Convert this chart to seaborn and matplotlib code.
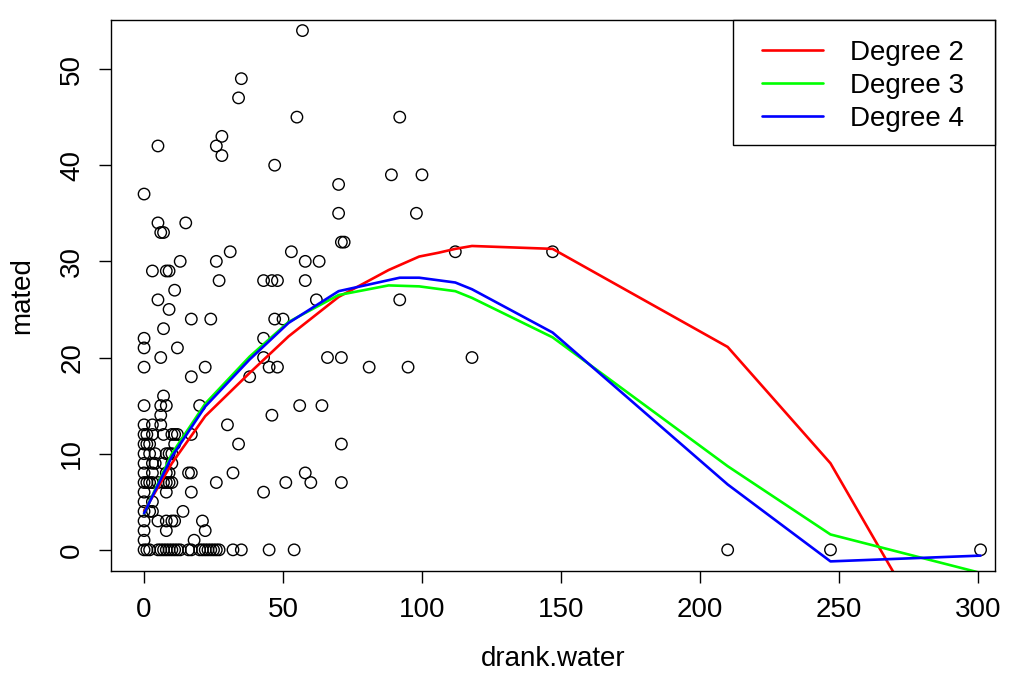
import matplotlib
matplotlib.use("Agg")
import matplotlib.pyplot as plt
import matplotlib.patches as mpatches
import seaborn as sns
import pandas as pd
import numpy as np

# ---- scatter data (drank.water, mated) ----
pts_x = [57, 35, 34, 28, 26, 28, 5, 0, 55, 92, 47, 89, 100, 70, 70, 98, 5, 15, 6, 7,
         71, 72, 31, 53, 112, 147, 13, 26, 58, 63, 3, 8, 9, 27, 43, 46, 48, 58, 11, 5,
         62, 92, 9, 17, 24, 47, 50, 7, 0, 43, 0, 12, 6, 43, 66, 71, 118, 0, 22, 45,
         48, 81, 95, 17, 38, 7, 0, 6, 8, 20, 56, 64, 6, 46, 0, 3, 6, 30,
         0, 1, 3, 7, 10, 11, 12, 17,
         34, 71, 0, 1, 2, 11,
         0, 2, 4, 8, 9, 10,
         0, 3, 4, 7, 10,
         0, 3, 8, 9, 16, 17, 32, 58,
         0, 1, 2, 3, 5, 7, 8, 9, 10, 26, 51, 60, 71,
         0, 8, 17, 43,
         0, 3,
         0, 2, 3, 14,
         0, 5, 8, 10, 11, 21,
         0, 8, 22,
         0, 18,
         0, 1, 2, 5, 6, 7, 8, 9, 10, 11, 12, 13, 16, 17, 20, 21, 22, 23, 24, 25, 26,
         27, 32, 35, 45, 54, 210, 247, 301]
pts_y = [54, 49, 47, 43, 42, 41, 42, 37, 45, 45, 40, 39, 39, 38, 35, 35, 34, 34, 33, 33,
         32, 32, 31, 31, 31, 31, 30, 30, 30, 30, 29, 29, 29, 28, 28, 28, 28, 28, 27, 26,
         26, 26, 25, 24, 24, 24, 24, 23, 22, 22, 21, 21, 20, 20, 20, 20, 20, 19, 19, 19,
         19, 19, 19, 18, 18, 16, 15, 15, 15, 15, 15, 15, 14, 14, 13, 13, 13, 13,
         12, 12, 12, 12, 12, 12, 12, 12,
         11, 11, 11, 11, 11, 11,
         10, 10, 10, 10, 10, 10,
         9, 9, 9, 9, 9,
         8, 8, 8, 8, 8, 8, 8, 8,
         7, 7, 7, 7, 7, 7, 7, 7, 7, 7, 7, 7, 7,
         6, 6, 6, 6,
         5, 5,
         4, 4, 4, 4,
         3, 3, 3, 3, 3, 3,
         2, 2, 2,
         1, 1,
         0, 0, 0, 0, 0, 0, 0, 0, 0, 0, 0, 0, 0, 0, 0, 0, 0, 0, 0, 0, 0,
         0, 0, 0, 0, 0, 0, 0, 0]

deg2_x = [0, 10, 22, 38, 52, 70, 88, 99, 106, 112, 118, 147, 210, 247, 301]
deg2_y = [4.0, 9.0, 13.9, 18.4, 22.2, 26.3, 29.1, 30.5, 30.9, 31.3, 31.6, 31.3, 21.1, 9.0, -18.0]

deg3_x = [0, 10, 22, 38, 52, 70, 88, 99, 112, 118, 147, 210, 247, 301]
deg3_y = [3.8, 10.0, 15.2, 20.1, 23.7, 26.5, 27.5, 27.4, 26.9, 26.2, 22.1, 8.7, 1.6, -2.4]

deg4_x = [0, 10, 22, 38, 52, 70, 92, 99, 112, 118, 147, 210, 247, 301]
deg4_y = [3.8, 9.7, 14.9, 19.8, 23.6, 26.9, 28.3, 28.3, 27.8, 27.1, 22.6, 6.8, -1.2, -0.6]

x_ticks = [0, 50, 100, 150, 200, 250, 300]
y_ticks = [0, 10, 20, 30, 40, 50]

sns.set_theme(style="white")
plt.rcParams['font.family'] = ['Liberation Sans', 'DejaVu Sans']
plt.rcParams['text.color'] = 'black'

FS = 20
W, H = 1011, 675
AX_L, AX_R, AX_T, AX_B = 111, 995, 20, 571
fig = plt.figure(figsize=(W / 100, H / 100), dpi=100)
ax = fig.add_axes([AX_L / W, 1 - AX_B / H, (AX_R - AX_L) / W, (AX_B - AX_T) / H])

df = pd.DataFrame({"drank.water": pts_x, "mated": pts_y})
sns.scatterplot(data=df, x="drank.water", y="mated", ax=ax, s=68,
                facecolor="none", edgecolor="black", linewidth=1.0, legend=False)

curves = [(deg2_x, deg2_y, "#FF0000", "Degree 2"),
          (deg3_x, deg3_y, "#00FF00", "Degree 3"),
          (deg4_x, deg4_y, "#0000FF", "Degree 4")]
for cx, cy, col, lab in curves:
    sns.lineplot(x=cx, y=cy, ax=ax, color=col, linewidth=1.9, sort=False,
                 estimator=None, label=lab)

ax.set_xlim(-11.9, 306.2)
ax.set_ylim(-2.2, 55.1)
ax.set_xticks(x_ticks)
ax.set_yticks(y_ticks)
ax.set_xticklabels([str(v) for v in x_ticks])
ax.set_yticklabels([str(v) for v in y_ticks], rotation=90, va="center")
ax.tick_params(axis="both", direction="out", length=8.6, width=1, color="black",
               labelsize=FS, labelcolor="black", bottom=True, left=True)
ax.tick_params(axis="x", pad=10)
ax.tick_params(axis="y", pad=10)
for sp in ax.spines.values():
    sp.set_visible(True)
    sp.set_color("black")
    sp.set_linewidth(1.0)
ax.set_xlabel("drank.water", fontsize=FS, color="black", labelpad=17)
ax.set_ylabel("mated", fontsize=FS, color="black", labelpad=17)
ax.grid(False)

# legend box (R style) drawn as a rectangle, entries placed inside
aw, ah = AX_R - AX_L, AX_B - AX_T
box_x0 = (733 - AX_L) / aw
box_y0 = (AX_B - 145) / ah
rect = mpatches.Rectangle((box_x0, box_y0), 1 - box_x0, 1 - box_y0,
                          transform=ax.transAxes, facecolor="white",
                          edgecolor="black", linewidth=1.0, zorder=4,
                          clip_on=False)
ax.add_patch(rect)

leg = ax.legend(loc="upper left", fontsize=FS, frameon=False,
                bbox_to_anchor=((762 - AX_L) / aw, (AX_B - 40) / ah),
                borderaxespad=0, borderpad=0,
                handlelength=2.2, handletextpad=0.95, labelspacing=0.25)
leg.set_zorder(5)
for t in leg.get_texts():
    t.set_color("black")

fig.savefig("out.png", dpi=100)
